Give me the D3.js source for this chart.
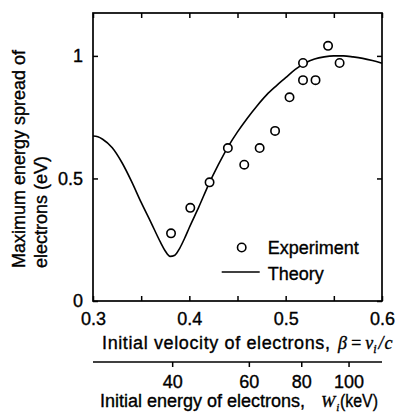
<!DOCTYPE html>
<html>
<head>
<meta charset="utf-8">
<script src="https://cdn.jsdelivr.net/npm/d3@7"></script>
<style>
  body { margin: 0; background: #fff; }
  text { font-family: "Liberation Sans", Arial, sans-serif; fill: #000; stroke: #000; stroke-width: 0.35px; }
  .serif { font-family: "Liberation Serif", "Times New Roman", serif; font-style: italic; }
</style>
</head>
<body>
<div id="figure"></div>
<script>
var w = 396;
var h = 413;
var margin = {top: 13, right: 14, bottom: 112, left: 93};
var chartWidth = w - margin.left - margin.right;
var chartHeight = h - margin.top - margin.bottom;

// theory curve
var theoryBeta = [0.300, 0.305, 0.310, 0.320, 0.330, 0.340, 0.350, 0.360, 0.370, 0.375, 0.380, 0.385, 0.390, 0.395, 0.400,
	0.410, 0.420, 0.430, 0.440, 0.450, 0.460, 0.470, 0.480, 0.490, 0.500, 0.510, 0.520, 0.530, 0.540, 0.550,
	0.560, 0.570, 0.580, 0.590, 0.600];
var theorySpread = [0.673, 0.670, 0.660, 0.625, 0.565, 0.488, 0.402, 0.322, 0.240, 0.204, 0.182, 0.187, 0.215, 0.255, 0.300,
	0.385, 0.475, 0.555, 0.628, 0.690, 0.745, 0.795, 0.840, 0.877, 0.911, 0.945, 0.970, 0.987, 0.996, 1.000,
	1.000, 0.996, 0.990, 0.981, 0.970];

// experiment points
var expBeta = [0.381, 0.401, 0.421, 0.440, 0.457, 0.473, 0.489, 0.504, 0.518, 0.518, 0.531, 0.544, 0.556];
var expSpread = [0.276, 0.380, 0.484, 0.624, 0.556, 0.624, 0.694, 0.831, 0.901, 0.971, 0.901, 1.041, 0.971];

// axes ticks
var betaTicks = [0.3, 0.35, 0.4, 0.45, 0.5, 0.55, 0.6];
var betaLabels = [0.3, 0.4, 0.5, 0.6];
var spreadTicks = [0, 0.5, 1];
var energyTicks = [40, 60, 80, 100];
var energyTickBeta = [0.3827, 0.4623, 0.5167, 0.5658];

var svg = d3.select('#figure')
	.append('svg')
	.attr('width', w)
	.attr('height', h);

var chart = svg.append('g')
	.attr('transform', 'translate(' + margin.left + ',' + margin.top + ')');

var xScale = d3.scaleLinear().domain([0.3, 0.6]).range([0, chartWidth]);
var yScale = d3.scaleLinear().domain([0, 1.175]).range([chartHeight, 0]);

function styleAxis(g){
	g.select('.domain').remove();
	g.selectAll('.tick line').attr('stroke', '#000').attr('stroke-width', 1.5);
	g.selectAll('.tick text').attr('font-size', 18).attr('fill', '#000');
}

// bottom axis (labels + inward ticks)
chart.append('g')
	.attr('transform', 'translate(0,' + chartHeight + ')')
	.call(d3.axisBottom(xScale).tickValues(betaTicks).tickSize(-5).tickPadding(11)
		.tickFormat(function(d){ return betaLabels.indexOf(d) >= 0 ? d3.format('.1f')(d) : ''; }))
	.call(styleAxis);

chart.append('g')
	.call(d3.axisTop(xScale).tickValues(betaTicks).tickSize(-5).tickFormat(''))
	.call(styleAxis);

chart.append('g')
	.call(d3.axisLeft(yScale).tickValues(spreadTicks).tickSize(-5).tickPadding(10)
		.tickFormat(function(d){ return d === 0.5 ? '0.5' : d; }))
	.call(styleAxis);

chart.append('g')
	.attr('transform', 'translate(' + chartWidth + ',0)')
	.call(d3.axisRight(yScale).tickValues(spreadTicks).tickSize(-5).tickFormat(''))
	.call(styleAxis);

// frame
chart.append('rect')
	.attr('width', chartWidth)
	.attr('height', chartHeight)
	.attr('fill', 'none')
	.attr('stroke', '#000')
	.attr('stroke-width', 1.7);

// theory line
var line = d3.line()
	.x(function(d){ return xScale(d[0]); })
	.y(function(d){ return yScale(d[1]); })
	.curve(d3.curveMonotoneX);

chart.append('path')
	.datum(d3.zip(theoryBeta, theorySpread))
	.attr('d', line)
	.attr('fill', 'none')
	.attr('stroke', '#000')
	.attr('stroke-width', 1.6);

// experiment circles
chart.selectAll('circle.exp')
	.data(d3.zip(expBeta, expSpread))
	.enter()
	.append('circle')
	.classed('exp', true)
	.attr('cx', function(d){ return xScale(d[0]); })
	.attr('cy', function(d){ return yScale(d[1]); })
	.attr('r', 4.2)
	.attr('fill', '#fff')
	.attr('stroke', '#000')
	.attr('stroke-width', 1.6);

// legend
var legend = chart.append('g').attr('transform', 'translate(' + (241.7 - margin.left) + ',' + (247.5 - margin.top) + ')');
legend.append('circle').attr('r', 4.2).attr('fill', '#fff').attr('stroke', '#000').attr('stroke-width', 1.6);
legend.append('text').attr('x', 26).attr('y', 6.5).attr('font-size', 18).text('Experiment');
legend.append('line').attr('x1', -20).attr('x2', 18).attr('y1', 24.5).attr('y2', 24.5)
	.attr('stroke', '#000').attr('stroke-width', 1.6);
legend.append('text').attr('x', 26).attr('y', 32.5).attr('font-size', 18).text('Theory');

// x title
svg.append('text').attr('x', 102).attr('y', 349).attr('font-size', 18)
	.attr('textLength', 228).attr('lengthAdjust', 'spacing')
	.text('Initial velocity of electrons,');
var xm = svg.append('text').attr('x', 338).attr('y', 349).attr('font-size', 18);
xm.append('tspan').attr('class', 'serif').text('\u03b2');
xm.append('tspan').attr('class', 'serif').attr('font-style', 'normal').attr('dx', 3).text('=');
xm.append('tspan').attr('class', 'serif').attr('dx', 3).text('v');
xm.append('tspan').attr('class', 'serif').attr('font-size', 12).attr('dy', 4).text('i');
xm.append('tspan').attr('class', 'serif').attr('dx', 2).attr('dy', -4).text('/');
xm.append('tspan').attr('class', 'serif').attr('dx', 1).text('c');

// energy axis
var eAxis = svg.append('g').attr('transform', 'translate(' + margin.left + ',362)');
eAxis.append('line').attr('x1', 0).attr('x2', chartWidth).attr('stroke', '#000').attr('stroke-width', 1.5);
eAxis.selectAll('g.etick')
	.data(d3.zip(energyTicks, energyTickBeta))
	.enter()
	.append('g')
	.classed('etick', true)
	.attr('transform', function(d){ return 'translate(' + xScale(d[1]) + ',0)'; })
	.each(function(d){
		var g = d3.select(this);
		g.append('line').attr('y2', 5).attr('stroke', '#000').attr('stroke-width', 1.5);
		g.append('text').attr('y', 26).attr('font-size', 18).attr('text-anchor', 'middle').text(d[0]);
	});

svg.append('text').attr('x', 100).attr('y', 407).attr('font-size', 18).text('Initial energy of electrons,');
var em = svg.append('text').attr('x', 321).attr('y', 407).attr('font-size', 18);
em.append('tspan').attr('class', 'serif').attr('font-size', 17).text('W');
em.append('tspan').attr('class', 'serif').attr('font-size', 11).attr('dx', 1).attr('dy', 4).text('i');
svg.append('text').attr('x', 340).attr('y', 407).attr('font-size', 18)
	.attr('textLength', 38).attr('lengthAdjust', 'spacingAndGlyphs').text('(keV)');

// y title
var yt = svg.append('g').attr('transform', 'translate(0,268) rotate(-90)');
yt.append('text').attr('x', 0).attr('y', 25).attr('font-size', 18).text('Maximum energy spread of');
yt.append('text').attr('x', 0).attr('y', 47).attr('font-size', 18).text('electrons (eV)');
</script>
</body>
</html>
